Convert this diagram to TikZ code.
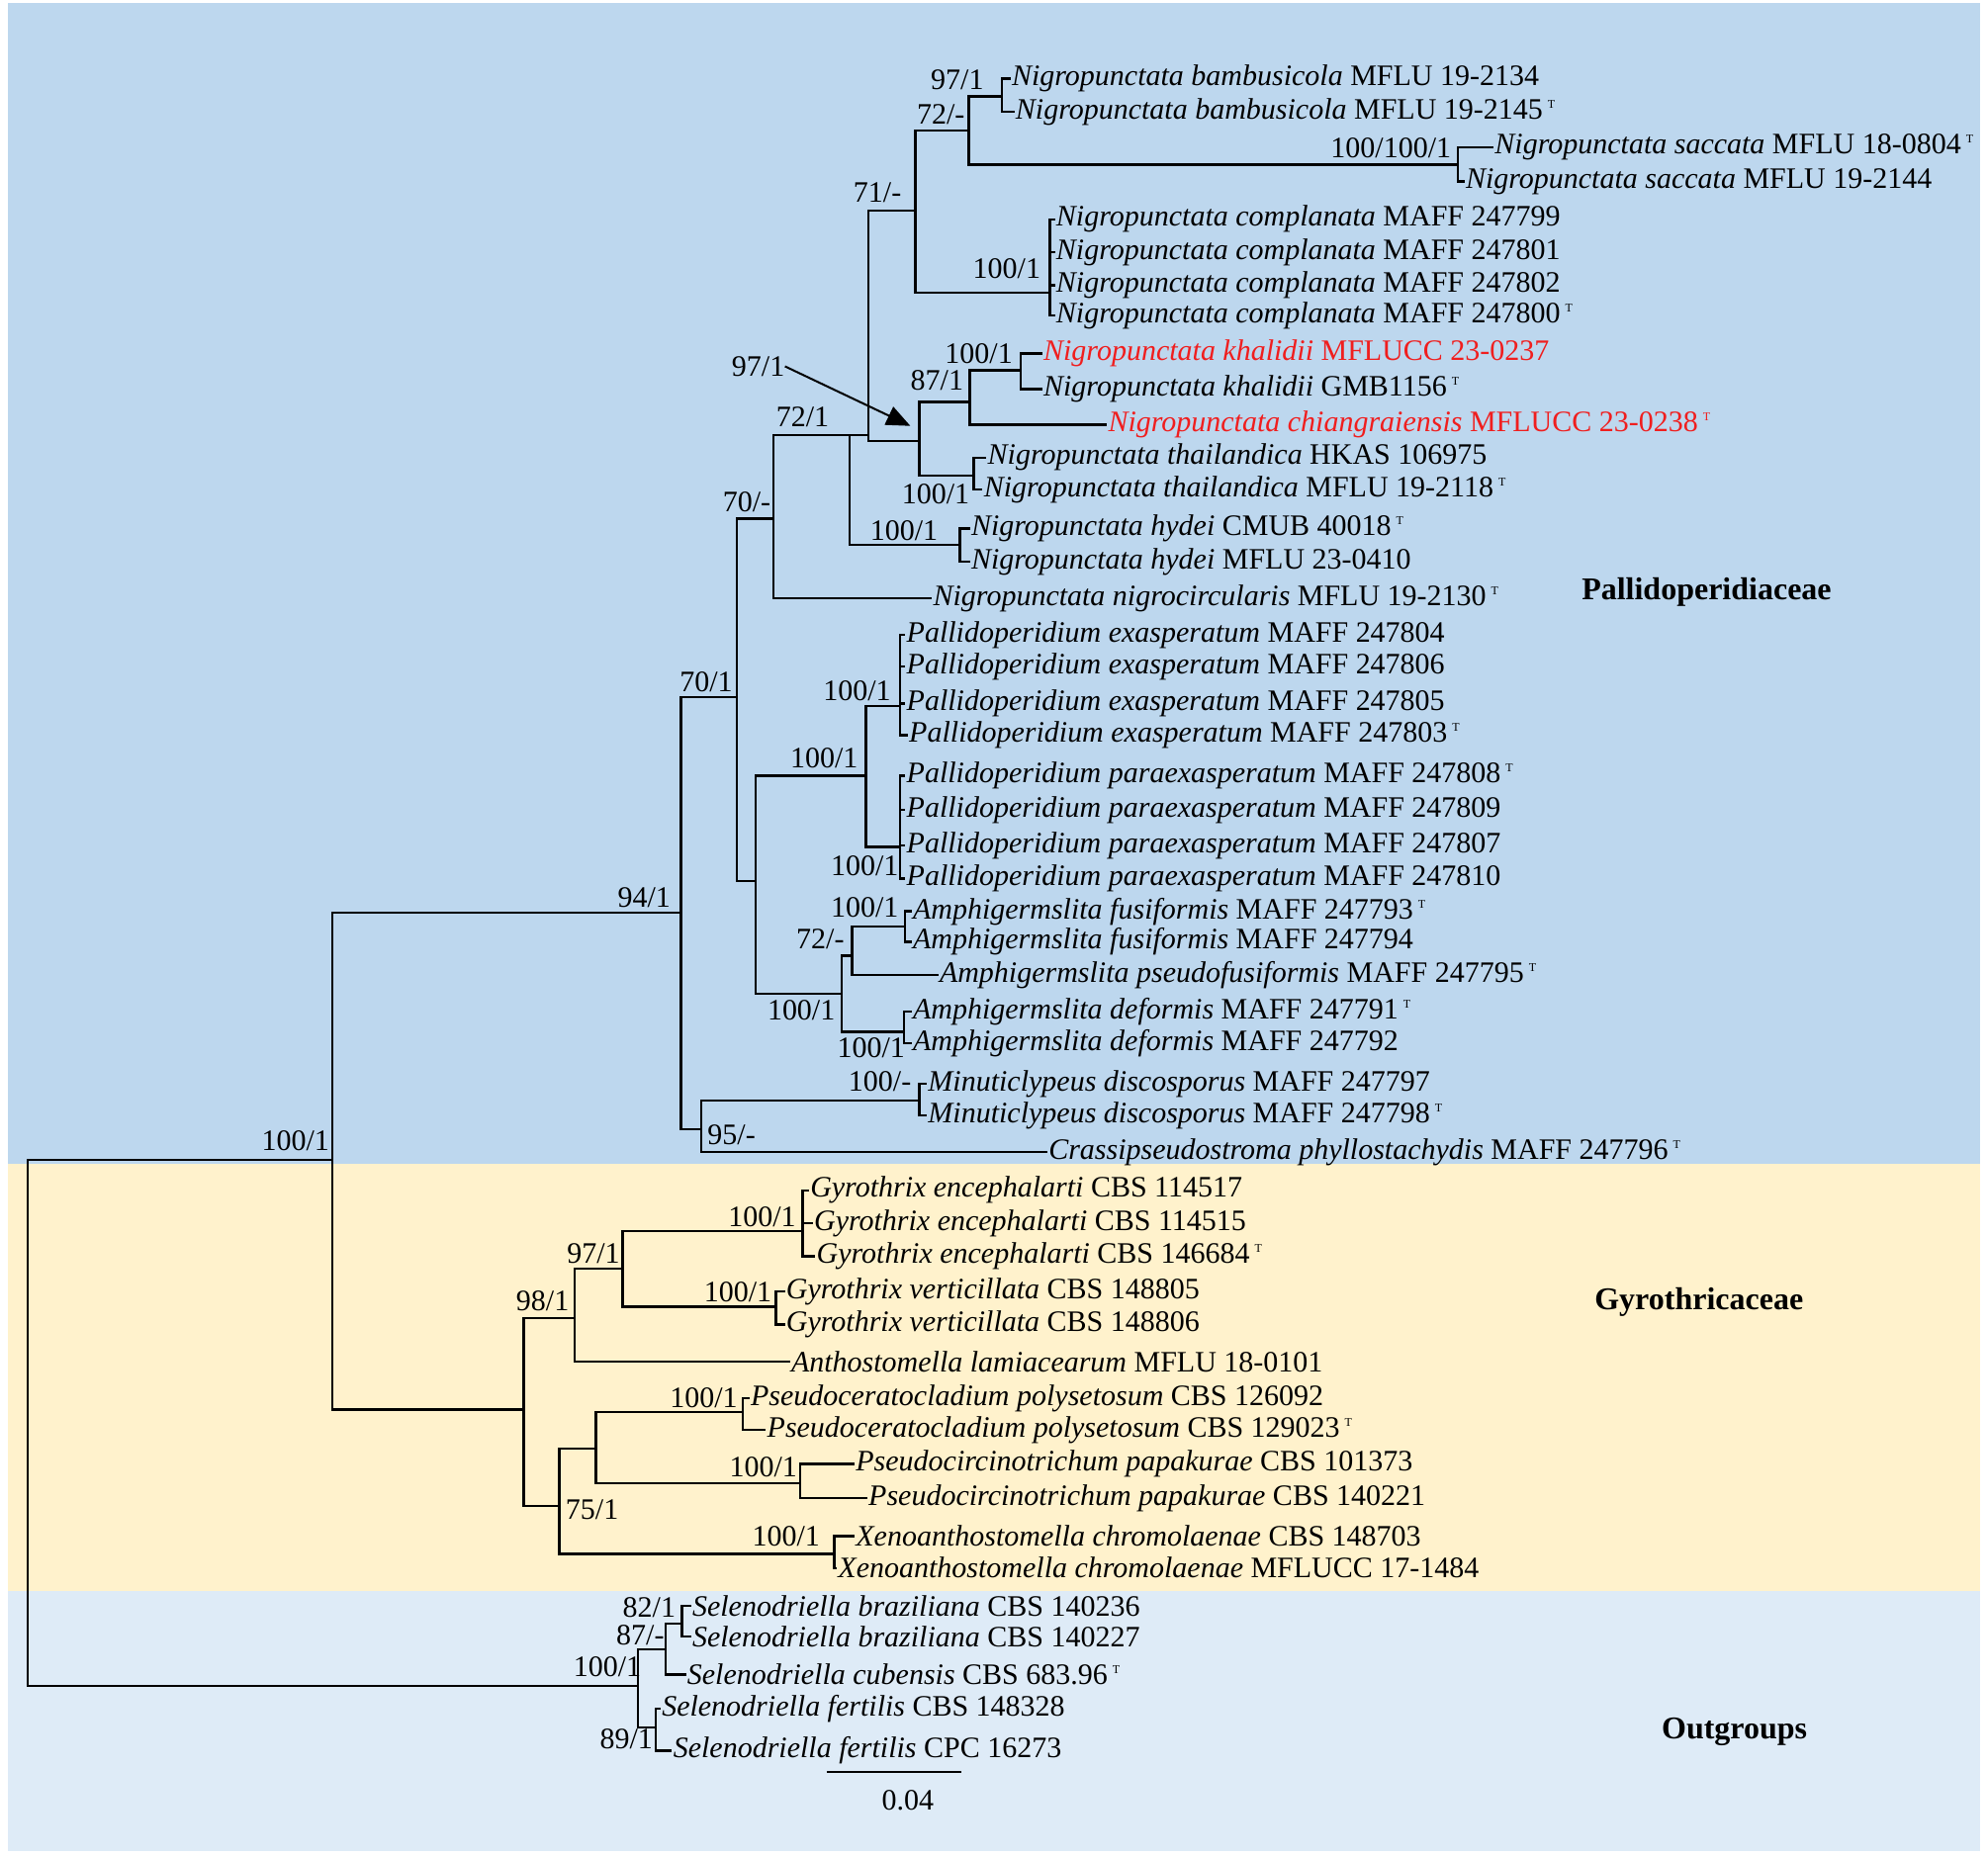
\documentclass[tikz,border=0pt]{standalone}
\usepackage{fontspec}
\setmainfont{Liberation Serif}
\usetikzlibrary{arrows.meta}
\definecolor{pallid}{RGB}{189,215,238}
\definecolor{gyro}{RGB}{255,242,204}
\definecolor{outg}{RGB}{222,235,247}
\definecolor{newsp}{RGB}{240,30,30}
\newcommand{\taxon}[2]{\textit{#1} #2}
\newcommand{\tstrain}{\,\raisebox{0.8ex}{\fontsize{6}{6}\selectfont T}}
\tikzset{
  leaf/.style={anchor=west, inner sep=0.5pt, font=\fontsize{15}{15}\selectfont},
  bs/.style={inner sep=0pt, font=\fontsize{15}{15}\selectfont},
  fam/.style={inner sep=0pt, font=\fontsize{16}{16}\selectfont\bfseries},
  br/.style={line width=1.2pt},
}

\begin{document}
\begin{tikzpicture}[x=0.641pt, y=-0.641pt]
\useasboundingbox (0,0) rectangle (1568,1464);
% clade backgrounds
\fill[pallid] (6,2) rectangle (1562,918);
\fill[gyro] (6,918) rectangle (1562,1255);
\fill[outg] (6,1255) rectangle (1562,1460);

% internal nodes (bar x, incoming y)
\coordinate (R) at (22,1122);
\coordinate (IN) at (262,915);
\coordinate (OUT) at (503,1330);
\coordinate (A94) at (537,720);
\coordinate (A70) at (581,550);
\coordinate (A95) at (553,891);
\coordinate (N70) at (610,409);
\coordinate (N72) at (670,343);
\coordinate (N71) at (685,343);
\coordinate (NCL) at (722,166);
\coordinate (NBS) at (764,103);
\coordinate (NBA) at (790,76);
\coordinate (NSA) at (1150,130);
\coordinate (NCO) at (828,231);
\coordinate (N97) at (725,348);
\coordinate (N87) at (765,317);
\coordinate (NKH) at (805,292);
\coordinate (NTH) at (768,375);
\coordinate (NHY) at (757,430);
\coordinate (PA) at (596,695);
\coordinate (PD) at (683,612);
\coordinate (PEX) at (710,557);
\coordinate (PPA) at (710,668);
\coordinate (AM) at (664,784);
\coordinate (A72) at (672,754);
\coordinate (AFU) at (714,731);
\coordinate (ADE) at (713,814);
\coordinate (MIN) at (725,868);
\coordinate (GY) at (413,1112);
\coordinate (G98) at (453,1040);
\coordinate (G97) at (491,1001);
\coordinate (GEN) at (633,971);
\coordinate (GVE) at (612,1031);
\coordinate (G75) at (441,1188);
\coordinate (G2) at (470,1143);
\coordinate (PCE) at (586,1114);
\coordinate (PCI) at (631,1170);
\coordinate (XEN) at (658,1226);
\coordinate (S87) at (525,1301);
\coordinate (S82) at (538,1281);
\coordinate (S89) at (517,1363);

% leaves
\node[leaf] (l1) at (797,62) {\taxon{Nigropunctata bambusicola}{MFLU 19-2134}};
\node[leaf] (l2) at (800,88) {\taxon{Nigropunctata bambusicola}{MFLU 19-2145}\tstrain};
\node[leaf] (l3) at (1178,116) {\taxon{Nigropunctata saccata}{MFLU 18-0804}\tstrain};
\node[leaf] (l4) at (1155,143) {\taxon{Nigropunctata saccata}{MFLU 19-2144}};
\node[leaf] (l5) at (832,173) {\taxon{Nigropunctata complanata}{MAFF 247799}};
\node[leaf] (l6) at (832,199) {\taxon{Nigropunctata complanata}{MAFF 247801}};
\node[leaf] (l7) at (832,225) {\taxon{Nigropunctata complanata}{MAFF 247802}};
\node[leaf] (l8) at (832,249) {\taxon{Nigropunctata complanata}{MAFF 247800}\tstrain};
\node[leaf,text=newsp] (l9) at (822,279) {\taxon{Nigropunctata khalidii}{MFLUCC 23-0237}};
\node[leaf] (l10) at (822,307) {\taxon{Nigropunctata khalidii}{GMB1156}\tstrain};
\node[leaf,text=newsp] (l11) at (873,335) {\taxon{Nigropunctata chiangraiensis}{MFLUCC 23-0238}\tstrain};
\node[leaf] (l12) at (778,361) {\taxon{Nigropunctata thailandica}{HKAS 106975}};
\node[leaf] (l13) at (775,386) {\taxon{Nigropunctata thailandica}{MFLU 19-2118}\tstrain};
\node[leaf] (l14) at (765,417) {\taxon{Nigropunctata hydei}{CMUB 40018}\tstrain};
\node[leaf] (l15) at (765,443) {\taxon{Nigropunctata hydei}{MFLU 23-0410}};
\node[leaf] (l16) at (735,472) {\taxon{Nigropunctata nigrocircularis}{MFLU 19-2130}\tstrain};
\node[leaf] (l17) at (714,501) {\taxon{Pallidoperidium exasperatum}{MAFF 247804}};
\node[leaf] (l18) at (714,526) {\taxon{Pallidoperidium exasperatum}{MAFF 247806}};
\node[leaf] (l19) at (714,555) {\taxon{Pallidoperidium exasperatum}{MAFF 247805}};
\node[leaf] (l20) at (716,580) {\taxon{Pallidoperidium exasperatum}{MAFF 247803}\tstrain};
\node[leaf] (l21) at (714,612) {\taxon{Pallidoperidium paraexasperatum}{MAFF 247808}\tstrain};
\node[leaf] (l22) at (714,639) {\taxon{Pallidoperidium paraexasperatum}{MAFF 247809}};
\node[leaf] (l23) at (714,667) {\taxon{Pallidoperidium paraexasperatum}{MAFF 247807}};
\node[leaf] (l24) at (714,693) {\taxon{Pallidoperidium paraexasperatum}{MAFF 247810}};
\node[leaf] (l25) at (719,719) {\taxon{Amphigermslita fusiformis}{MAFF 247793}\tstrain};
\node[leaf] (l26) at (719,743) {\taxon{Amphigermslita fusiformis}{MAFF 247794}};
\node[leaf] (l27) at (740,769) {\taxon{Amphigermslita pseudofusiformis}{MAFF 247795}\tstrain};
\node[leaf] (l28) at (719,798) {\taxon{Amphigermslita deformis}{MAFF 247791}\tstrain};
\node[leaf] (l29) at (719,823) {\taxon{Amphigermslita deformis}{MAFF 247792}};
\node[leaf] (l30) at (731,855) {\taxon{Minuticlypeus discosporus}{MAFF 247797}};
\node[leaf] (l31) at (731,880) {\taxon{Minuticlypeus discosporus}{MAFF 247798}\tstrain};
\node[leaf] (l32) at (826,909) {\taxon{Crassipseudostroma phyllostachydis}{MAFF 247796}\tstrain};
\node[leaf] (l33) at (638,939) {\taxon{Gyrothrix encephalarti}{CBS 114517}};
\node[leaf] (l34) at (641,965) {\taxon{Gyrothrix encephalarti}{CBS 114515}};
\node[leaf] (l35) at (643,991) {\taxon{Gyrothrix encephalarti}{CBS 146684}\tstrain};
\node[leaf] (l36) at (619,1019) {\taxon{Gyrothrix verticillata}{CBS 148805}};
\node[leaf] (l37) at (619,1045) {\taxon{Gyrothrix verticillata}{CBS 148806}};
\node[leaf] (l38) at (623,1074) {\taxon{Anthostomella lamiacearum}{MFLU 18-0101}};
\node[leaf] (l39) at (591,1103) {\taxon{Pseudoceratocladium polysetosum}{CBS 126092}};
\node[leaf] (l40) at (604,1128) {\taxon{Pseudoceratocladium polysetosum}{CBS 129023}\tstrain};
\node[leaf] (l41) at (674,1155) {\taxon{Pseudocircinotrichum papakurae}{CBS 101373}};
\node[leaf] (l42) at (684,1182) {\taxon{Pseudocircinotrichum papakurae}{CBS 140221}};
\node[leaf] (l43) at (674,1212) {\taxon{Xenoanthostomella chromolaenae}{CBS 148703}};
\node[leaf] (l44) at (660,1237) {\taxon{Xenoanthostomella chromolaenae}{MFLUCC 17-1484}};
\node[leaf] (l45) at (545,1267) {\taxon{Selenodriella braziliana}{CBS 140236}};
\node[leaf] (l46) at (545,1291) {\taxon{Selenodriella braziliana}{CBS 140227}};
\node[leaf] (l47) at (541,1321) {\taxon{Selenodriella cubensis}{CBS 683.96}\tstrain};
\node[leaf] (l48) at (521,1348) {\taxon{Selenodriella fertilis}{CBS 148328}};
\node[leaf] (l49) at (530,1381) {\taxon{Selenodriella fertilis}{CPC 16273}};

% branches
\draw[br] (R) |- (IN) (R) |- (OUT);
\draw[br] (IN) |- (A94) (IN) |- (GY);
\draw[br] (A94) |- (A70) (A94) |- (A95);
\draw[br] (A70) |- (N70) (A70) |- (PA);
\draw[br] (N70) |- (N72) (N70) |- (l16.west);
\draw[br] (N72) |- (N71) (N72) |- (NHY);
\draw[br] (N71) |- (NCL) (N71) |- (N97);
\draw[br] (NCL) |- (NBS) (NCL) |- (NCO);
\draw[br] (NBS) |- (NBA) (NBS) |- (NSA);
\foreach \c in {l1,l2} \draw[br] (NBA) |- (\c.west);
\foreach \c in {l3,l4} \draw[br] (NSA) |- (\c.west);
\foreach \c in {l5,l6,l7,l8} \draw[br] (NCO) |- (\c.west);
\draw[br] (N97) |- (N87) (N97) |- (NTH);
\draw[br] (N87) |- (NKH) (N87) |- (l11.west);
\foreach \c in {l9,l10} \draw[br] (NKH) |- (\c.west);
\foreach \c in {l12,l13} \draw[br] (NTH) |- (\c.west);
\foreach \c in {l14,l15} \draw[br] (NHY) |- (\c.west);
\draw[br] (PA) |- (PD) (PA) |- (AM);
\draw[br] (PD) |- (PEX) (PD) |- (PPA);
\foreach \c in {l17,l18,l19,l20} \draw[br] (PEX) |- (\c.west);
\foreach \c in {l21,l22,l23,l24} \draw[br] (PPA) |- (\c.west);
\draw[br] (AM) |- (A72) (AM) |- (ADE);
\draw[br] (A72) |- (AFU) (A72) |- (l27.west);
\foreach \c in {l25,l26} \draw[br] (AFU) |- (\c.west);
\foreach \c in {l28,l29} \draw[br] (ADE) |- (\c.west);
\draw[br] (A95) |- (MIN) (A95) |- (l32.west);
\foreach \c in {l30,l31} \draw[br] (MIN) |- (\c.west);
\draw[br] (GY) |- (G98) (GY) |- (G75);
\draw[br] (G98) |- (G97) (G98) |- (l38.west);
\draw[br] (G97) |- (GEN) (G97) |- (GVE);
\foreach \c in {l33,l34,l35} \draw[br] (GEN) |- (\c.west);
\foreach \c in {l36,l37} \draw[br] (GVE) |- (\c.west);
\draw[br] (G75) |- (G2) (G75) |- (XEN);
\draw[br] (G2) |- (PCE) (G2) |- (PCI);
\foreach \c in {l39,l40} \draw[br] (PCE) |- (\c.west);
\foreach \c in {l41,l42} \draw[br] (PCI) |- (\c.west);
\foreach \c in {l43,l44} \draw[br] (XEN) |- (\c.west);
\draw[br] (OUT) |- (S87) (OUT) |- (S89);
\draw[br] (S87) |- (S82) (S87) |- (l47.west);
\foreach \c in {l45,l46} \draw[br] (S82) |- (\c.west);
\foreach \c in {l48,l49} \draw[br] (S89) |- (\c.west);

% support values
\node[bs] (b1) at (755,63) {97/1};
\node[bs] (b2) at (742,90) {72/-};
\node[bs] (b3) at (1097,117) {100/100/1};
\node[bs] (b4) at (692,152) {71/-};
\node[bs] (b5) at (794,212) {100/1};
\node[bs] (b6) at (772,279) {100/1};
\node[bs] (b7) at (739,300) {87/1};
\node[bs] (b8) at (598,289) {97/1};
\node[bs] (b9) at (633,329) {72/1};
\node[bs] (b10) at (738,390) {100/1};
\node[bs] (b11) at (589,396) {70/-};
\node[bs] (b12) at (713,419) {100/1};
\node[bs] (b13) at (557,538) {70/1};
\node[bs] (b14) at (676,545) {100/1};
\node[bs] (b15) at (650,598) {100/1};
\node[bs] (b16) at (682,683) {100/1};
\node[bs] (b17) at (508,708) {94/1};
\node[bs] (b18) at (682,716) {100/1};
\node[bs] (b19) at (647,741) {72/-};
\node[bs] (b20) at (632,797) {100/1};
\node[bs] (b21) at (687,827) {100/1};
\node[bs] (b22) at (694,853) {100/-};
\node[bs] (b23) at (577,895) {95/-};
\node[bs] (b24) at (233,900) {100/1};
\node[bs] (b25) at (601,960) {100/1};
\node[bs] (b26) at (468,989) {97/1};
\node[bs] (b27) at (428,1026) {98/1};
\node[bs] (b28) at (582,1019) {100/1};
\node[bs] (b29) at (555,1103) {100/1};
\node[bs] (b30) at (602,1157) {100/1};
\node[bs] (b31) at (467,1191) {75/1};
\node[bs] (b32) at (620,1212) {100/1};
\node[bs] (b33) at (512,1268) {82/1};
\node[bs] (b34) at (505,1290) {87/-};
\node[bs] (b35) at (479,1315) {100/1};
\node[bs] (b36) at (494,1372) {89/1};

% pointer to the 97/1 node
\coordinate (atip) at (718,336);
\draw[line width=1pt,-{Triangle[length=12pt,width=10pt]}] (b8.east) -- (atip);

% families
\node[fam] (f1) at (1346,467) {Pallidoperidiaceae};
\node[fam] (f2) at (1340,1027) {Gyrothricaceae};
\node[fam] (f3) at (1368,1366) {Outgroups};

% scale bar
\coordinate (sbl) at (652,1398);
\coordinate (sbr) at (758,1398);
\draw[br] (sbl) -- (sbr);
\node[bs] (sbt) at (716,1420) {0.04};
\end{tikzpicture}
\end{document}
